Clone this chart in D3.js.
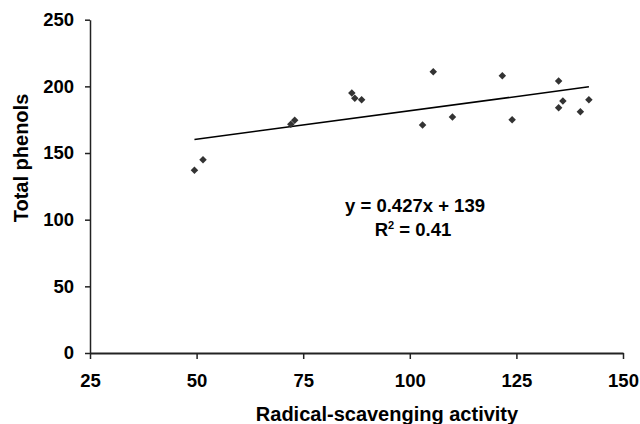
<!DOCTYPE html>
<html>
<head>
<meta charset="utf-8">
<script src="https://cdn.jsdelivr.net/npm/d3@7"></script>
<style>
  body { margin: 0; background: #fff; }
  text { font-family: "Liberation Sans", Arial, sans-serif; font-weight: bold; fill: #000; }
</style>
</head>
<body>
<script>
// radical-scavenging activity (x) vs total phenols (y)
const activity = [49.5, 51.5, 72.1, 73.0, 86.4, 87.1, 88.7, 103.0, 105.5, 110.0, 121.7, 124.0, 134.9, 134.9, 135.9, 140.0, 142.0]
const phenols  = [137, 145, 171.5, 174.5, 195, 191, 190, 171, 211, 177, 208, 175, 204, 184, 189, 181, 190]
const xTicks = [25, 50, 75, 100, 125, 150]
const yTicks = [0, 50, 100, 150, 200, 250]
const slope = 0.427
const intercept = 139

const width = 640
const height = 424
const fs = "18.5px"
const titleFs = "20px"

const svg = d3.select("body").append("svg")
    .attr("width", width)
    .attr("height", height)

const x = d3.scaleLinear().domain([25, 150]).range([90, 623])
const y = d3.scaleLinear().domain([0, 250]).range([353, 19.7])

const xAxis = svg.append("g")
    .attr("transform", `translate(0,${y(0)})`)
    .call(d3.axisBottom(x).tickValues(xTicks).tickSize(6).tickSizeOuter(0).tickPadding(15))
xAxis.select(".domain").attr("stroke", "#222").attr("stroke-width", 2)
xAxis.selectAll(".tick line").attr("stroke", "#222").attr("stroke-width", 1.5)
xAxis.selectAll("text").style("font-size", fs)

const yAxis = svg.append("g")
    .attr("transform", `translate(${x(25)},0)`)
    .call(d3.axisLeft(y).tickValues(yTicks).tickSize(5).tickSizeOuter(0).tickPadding(11))
yAxis.select(".domain").attr("stroke", "#222").attr("stroke-width", 1.5)
yAxis.selectAll(".tick line").attr("stroke", "#222").attr("stroke-width", 1.5)
yAxis.selectAll("text").style("font-size", fs)

// trendline over the data range
const xMin = d3.min(activity), xMax = d3.max(activity)
svg.append("line")
    .attr("x1", x(xMin)).attr("y1", y(slope * xMin + intercept))
    .attr("x2", x(xMax)).attr("y2", y(slope * xMax + intercept))
    .attr("stroke", "#000")
    .attr("stroke-width", 1.5)

const diamond = d3.symbol().type(d3.symbolDiamond2).size(36)
svg.selectAll(".pt")
    .data(activity.map((a, i) => ({a: a, p: phenols[i]})))
    .enter()
    .append("path")
    .attr("class", "pt")
    .attr("d", diamond)
    .attr("transform", d => `translate(${x(d.a)},${y(d.p)})`)
    .attr("fill", "#333")

svg.append("text")
    .attr("x", 415).attr("y", 212)
    .attr("text-anchor", "middle")
    .style("font-size", fs)
    .text(`y = ${slope}x + ${intercept}`)

const r2 = svg.append("text")
    .attr("x", 413).attr("y", 236)
    .attr("text-anchor", "middle")
    .style("font-size", fs)
r2.append("tspan").text("R")
r2.append("tspan").attr("dy", -7).style("font-size", "11px").text("2")
r2.append("tspan").attr("dy", 7).text(" = 0.41")

svg.append("text")
    .attr("x", 387).attr("y", 421)
    .attr("text-anchor", "middle")
    .style("font-size", titleFs)
    .text("Radical-scavenging activity")

svg.append("text")
    .attr("transform", "translate(28,158) rotate(-90)")
    .attr("text-anchor", "middle")
    .style("font-size", titleFs)
    .text("Total phenols")
</script>
</body>
</html>
